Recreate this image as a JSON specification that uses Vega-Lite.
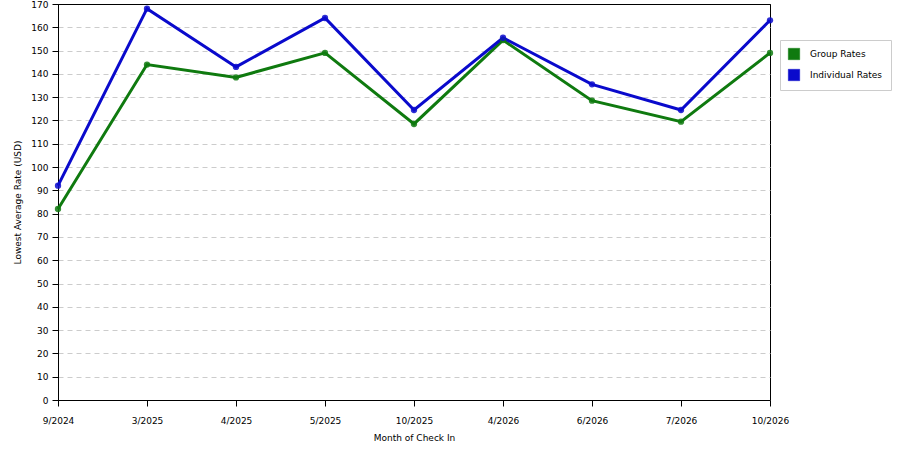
{
  "$schema": "https://vega.github.io/schema/vega-lite/v6.json",
  "autosize": {"type": "none"},
  "padding": {"left": 58, "top": 4, "right": 130, "bottom": 50},
  "width": 712,
  "height": 396,
  "background": "#FFFFFF",
  "config": {
    "font": "DejaVu Sans",
    "view": {"stroke": "#000000", "strokeWidth": 1},
    "axis": {
      "labelFont": "DejaVu Sans",
      "titleFont": "DejaVu Sans",
      "labelFontSize": 9,
      "titleFontSize": 9,
      "titleFontWeight": "normal",
      "labelColor": "#000000",
      "titleColor": "#000000",
      "domainColor": "#000000",
      "tickColor": "#000000",
      "tickSize": 6
    }
  },
  "data": {
    "values": [
      {"month": "9/2024", "series": "Group Rates", "rate": 82},
      {"month": "3/2025", "series": "Group Rates", "rate": 144},
      {"month": "4/2025", "series": "Group Rates", "rate": 138.5},
      {"month": "5/2025", "series": "Group Rates", "rate": 149},
      {"month": "10/2025", "series": "Group Rates", "rate": 118.5},
      {"month": "4/2026", "series": "Group Rates", "rate": 154.5},
      {"month": "6/2026", "series": "Group Rates", "rate": 128.5},
      {"month": "7/2026", "series": "Group Rates", "rate": 119.5},
      {"month": "10/2026", "series": "Group Rates", "rate": 149},
      {"month": "9/2024", "series": "Individual Rates", "rate": 92},
      {"month": "3/2025", "series": "Individual Rates", "rate": 168},
      {"month": "4/2025", "series": "Individual Rates", "rate": 143},
      {"month": "5/2025", "series": "Individual Rates", "rate": 164},
      {"month": "10/2025", "series": "Individual Rates", "rate": 124.5},
      {"month": "4/2026", "series": "Individual Rates", "rate": 155.5},
      {"month": "6/2026", "series": "Individual Rates", "rate": 135.5},
      {"month": "7/2026", "series": "Individual Rates", "rate": 124.5},
      {"month": "10/2026", "series": "Individual Rates", "rate": 163}
    ]
  },
  "encoding": {
    "x": {
      "field": "month",
      "type": "ordinal",
      "sort": null,
      "scale": {"type": "point", "padding": 0},
      "axis": {
        "title": "Month of Check In",
        "labelAngle": 0,
        "labelPadding": 10,
        "titlePadding": 8,
        "grid": false
      }
    },
    "y": {
      "field": "rate",
      "type": "quantitative",
      "scale": {"domain": [0, 170], "nice": false},
      "axis": {
        "title": "Lowest Average Rate (USD)",
        "values": [0, 10, 20, 30, 40, 50, 60, 70, 80, 90, 100, 110, 120, 130, 140, 150, 160, 170],
        "grid": true,
        "gridColor": {"condition": {"test": "datum.value === 170", "value": "#000000"}, "value": "#cccccc"},
        "gridDash": {"condition": {"test": "datum.value === 170", "value": []}, "value": [5, 4]},
        "labelPadding": 4,
        "titlePadding": 8
      }
    },
    "color": {
      "field": "series",
      "type": "nominal",
      "scale": {"domain": ["Group Rates", "Individual Rates"], "range": ["#0f7a0f", "#0a0acc"]},
      "legend": {
        "title": null,
        "orient": "none",
        "legendX": 722,
        "legendY": 36,
        "symbolType": "square",
        "symbolSize": 130,
        "symbolStrokeColor": "#333333",
        "symbolStrokeWidth": 0.5,
        "symbolOpacity": 1,
        "labelFont": "DejaVu Sans",
        "labelFontSize": 9,
        "labelColor": "#000000",
        "rowPadding": 7,
        "labelOffset": 10,
        "strokeColor": "#cccccc",
        "padding": 8,
        "fillColor": "#ffffff"
      }
    }
  },
  "layer": [
    {"mark": {"type": "line", "strokeWidth": 3}},
    {"mark": {"type": "point", "filled": true, "size": 40, "opacity": 0.85}}
  ]
}
